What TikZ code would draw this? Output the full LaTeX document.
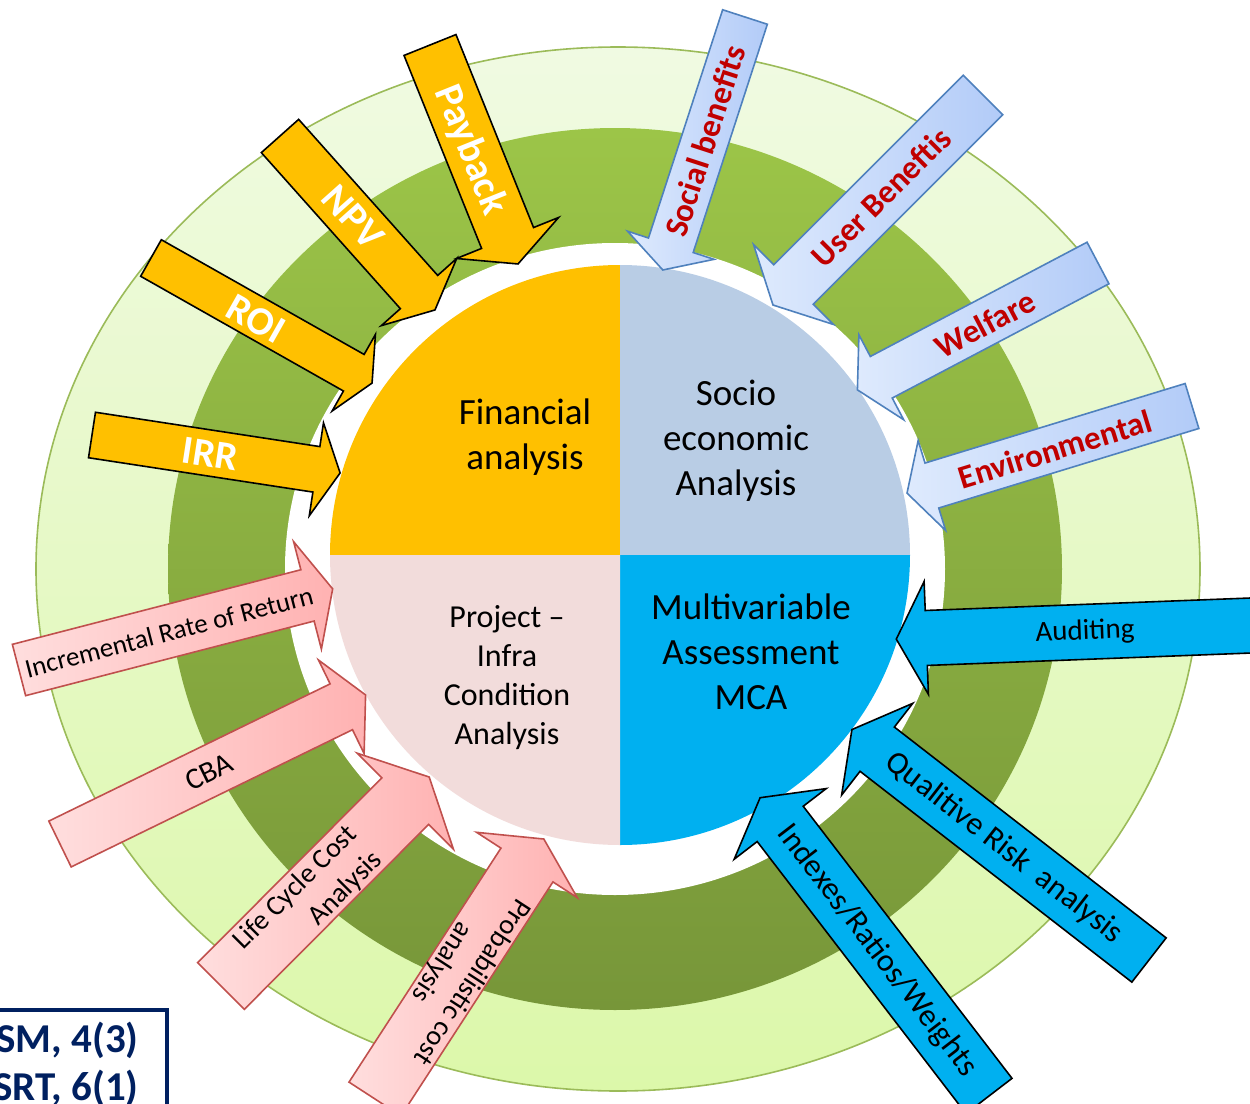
\documentclass[tikz,border=0pt]{standalone}
\usepackage{fontspec}
\setmainfont{Carlito}
\definecolor{FIN}{RGB}{255,192,0}
\definecolor{SOC}{RGB}{185,205,229}
\definecolor{PRJ}{RGB}{242,220,219}
\definecolor{MCA}{RGB}{0,176,240}
\definecolor{LG1}{RGB}{240,250,226}
\definecolor{LG2}{RGB}{220,248,170}
\definecolor{LGB}{RGB}{155,187,89}
\definecolor{DG1}{RGB}{156,197,72}
\definecolor{DG2}{RGB}{119,150,57}
\definecolor{SB1}{RGB}{222,234,253}
\definecolor{SB2}{RGB}{178,203,248}
\definecolor{SBL}{RGB}{79,129,189}
\definecolor{PK1}{RGB}{255,222,222}
\definecolor{PK2}{RGB}{255,178,178}
\definecolor{PKL}{RGB}{192,80,77}
\definecolor{RED}{RGB}{192,0,0}
\definecolor{NAVY}{RGB}{0,32,96}
% #1 style, #2 tail, #3 angle, #4 length, #5 shaft width, #6 head width, #7 head length
\newcommand{\blockarrow}[7]{%
  \begin{scope}[shift={#2}, rotate=#3]
    \draw[#1] (0,-#5/2) -- (#4-#7,-#5/2) -- (#4-#7,-#6/2) -- (#4,0)
      -- (#4-#7,#6/2) -- (#4-#7,#5/2) -- (0,#5/2) -- cycle;
  \end{scope}}
\tikzset{
  finarrow/.style={fill=FIN, draw=black, line width=0.8pt, line join=miter},
  socarrow/.style={left color=SB1, right color=SB2, draw=SBL, line width=0.8pt},
  prjarrow/.style={left color=PK1, right color=PK2, draw=PKL, line width=0.8pt},
  mcaarrow/.style={fill=MCA, draw=black, line width=0.8pt},
  fintxt/.style={text=white, font=\fontsize{20}{24}\selectfont\bfseries},
  soctxt/.style={text=RED, font=\fontsize{16.5}{20}\selectfont\bfseries},
  prjtxt/.style={align=center, font=\fontsize{14}{18}\selectfont},
  mcatxt/.style={font=\fontsize{16}{19}\selectfont},
  pietxt/.style={align=center, font=\fontsize{18.5}{22.5}\selectfont},
  boxtxt/.style={text=NAVY, inner sep=0pt, font=\fontsize{20.5}{24}\selectfont\bfseries}
}

\begin{document}
\begin{tikzpicture}[x=0.5pt, y=-0.5pt]
      \useasboundingbox (0,0) rectangle (1250,1104);
      \clip (0,0) rectangle (1250,1104);
      % rings
      \path[draw=LGB, line width=0.8pt, top color=LG1, bottom color=LG2] (618,569) ellipse [x radius=582, y radius=522];
      \shade[top color=DG1, bottom color=DG2] (615,569) ellipse [x radius=447, y radius=441];
      \fill[white] (615,569) ellipse [x radius=330, y radius=326];
      % pie
      \fill[FIN] (620,555) -- (330,555) arc[start angle=180, end angle=270, radius=290] -- cycle;
      \fill[SOC] (620,555) -- (620,265) arc[start angle=270, end angle=360, radius=290] -- cycle;
      \fill[MCA] (620,555) -- (910,555) arc[start angle=0, end angle=90, radius=290] -- cycle;
      \fill[PRJ] (620,555) -- (620,845) arc[start angle=90, end angle=180, radius=290] -- cycle;
      \draw (525,437) node[pietxt] (fin) {Financial\\analysis};
      \draw (736,441) node[pietxt] (soc) {Socio\\economic\\Analysis};
      \draw (507,678) node[pietxt, font=\fontsize{16}{19.5}\selectfont] (prj) {Project --\\Infra\\Condition\\Analysis};
      \draw (751,652) node[pietxt] (mca) {Multivariable\\Assessment\\MCA};
      % financial arrows
      \blockarrow{finarrow}{(430,45)}{-68.1}{236}{56}{110}{28}
      \blockarrow{finarrow}{(280,136)}{-48.3}{233}{50}{101}{24}
      \blockarrow{finarrow}{(151,258)}{-29.5}{254}{42}{88}{21}
      \blockarrow{finarrow}{(92,435)}{-8.7}{251}{46}{94}{24}
      \draw (470,150) node[fintxt, rotate=-68.1] (payback) {Payback};
      \draw (353,217) node[fintxt, rotate=-48.3] (npv) {NPV};
      \draw (256,319) node[fintxt, rotate=-29.5] (roi) {ROI};
      \draw (210,454) node[fintxt, rotate=-8.7] (irr) {IRR};
      % socio economic arrows
      \blockarrow{socarrow}{(745,17)}{-108}{266}{47}{91}{26}
      \blockarrow{socarrow}{(983,95)}{-135}{297}{56}{113}{29}
      \blockarrow{socarrow}{(1098,263)}{-152.2}{272}{47}{96}{27}
      \blockarrow{socarrow}{(1192,406)}{-163}{298}{47}{94}{26}
      \draw (705,141) node[soctxt, rotate=72] (social) {Social benefits};
      \draw (881,197) node[soctxt, rotate=45] (user) {User Beneftis};
      \draw (985,324) node[soctxt, rotate=27.8] (welfare) {Welfare};
      \draw (1055,449) node[soctxt, rotate=17] (env) {Environmental};
      % project arrows
      \blockarrow{prjarrow}{(19,670)}{14.5}{324}{53}{111}{26}
      \blockarrow{prjarrow}{(60,844)}{26}{340}{51}{104}{27}
      \blockarrow{prjarrow}{(221,986)}{45.1}{295}{66}{136}{34}
      \blockarrow{prjarrow}{(375,1099)}{57}{310}{62}{120}{31}
      \draw (169,632) node[prjtxt, font=\fontsize{13.5}{16}\selectfont, rotate=14.5] (irrinc) {Incremental Rate of Return};
      \draw (209,772) node[prjtxt, font=\fontsize{15}{18}\selectfont, rotate=26] (cba) {CBA};
      \draw (308,901) node[prjtxt, align=right, rotate=45.1] (lcc) {Life Cycle Cost\\Analysis};
      \draw (457,972) node[prjtxt, rotate=-123] (prob) {Probabilistic cost\\analysis};
      % mca arrows
      \blockarrow{mcaarrow}{(1290,624)}{-177.8}{394}{55}{113}{30}
      \blockarrow{mcaarrow}{(1149,960)}{142.2}{376}{56}{116}{32}
      \blockarrow{mcaarrow}{(989,1096)}{127.5}{376}{58}{116}{33}
      \draw (1085,632) node[mcatxt, font=\fontsize{14.5}{17}\selectfont, rotate=2.2] (audit) {Auditing};
      \draw (1004,848) node[mcatxt, rotate=-37.8] (risk) {Qualitive Risk\ \ analysis};
      \draw (877,951) node[mcatxt, rotate=-52.5] (idx) {Indexes/Ratios/Weights};
      % reference box
      \draw[NAVY, line width=1.7pt] (-20,1010) rectangle (167,1150);
      \draw (139,1040) node[boxtxt, anchor=east] (ref1) {SM, 4(3)};
      \draw (139,1088) node[boxtxt, anchor=east] (ref2) {SRT, 6(1)};
\end{tikzpicture}
\end{document}
